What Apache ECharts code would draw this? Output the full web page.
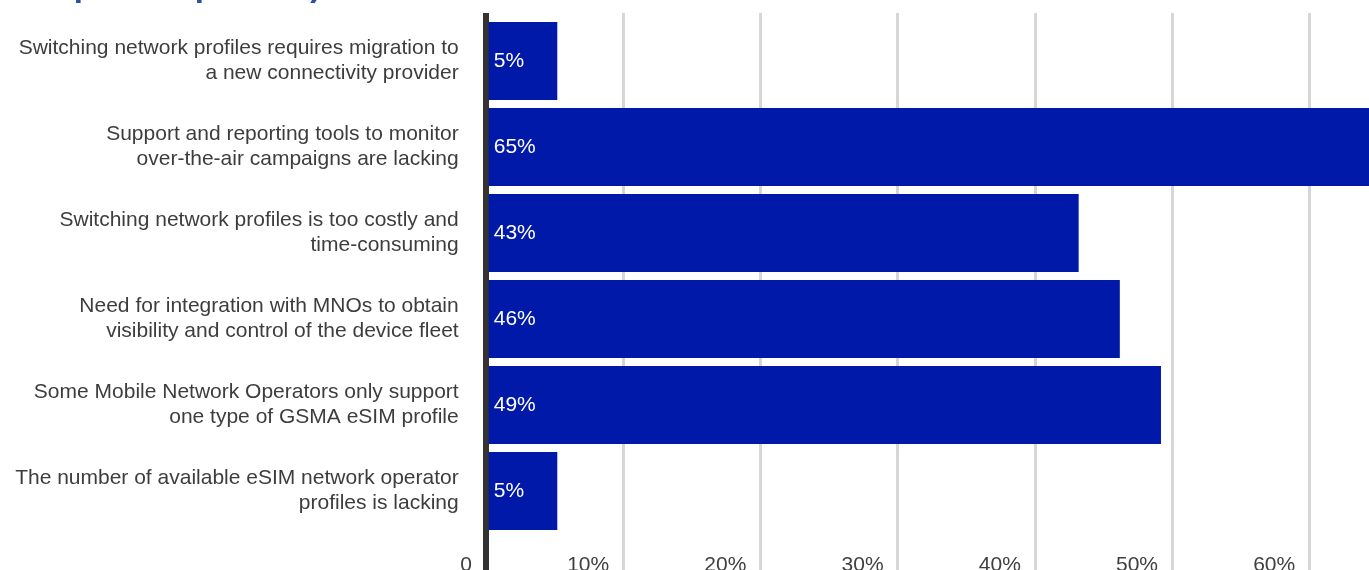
<!DOCTYPE html>
<html>
<head>
<meta charset="utf-8">
<script src="https://cdn.jsdelivr.net/npm/echarts@6/dist/echarts.min.js"></script>
<style>
  html, body { margin: 0; padding: 0; background: #fff; }
  #chart { width: 1369px; height: 570px; }
</style>
</head>
<body>
<div id="chart"></div>
<script>
// Challenges listed top to bottom
const categories = [
  'Switching network profiles requires migration to\na new connectivity provider',
  'Support and reporting tools to monitor\nover-the-air campaigns are lacking',
  'Switching network profiles is too costly and\ntime-consuming',
  'Need for integration with MNOs to obtain\nvisibility and control of the device fleet',
  'Some Mobile Network Operators only support\none type of GSMA eSIM profile',
  'The number of available eSIM network operator\nprofiles is lacking'
];
// Share of respondents, percent
const shares = [5, 65, 43, 46, 49, 5];
// Percent axis ticks
const tickValues = [0, 10, 20, 30, 40, 50, 60, 70];
const titleText = 'adopter responses)';

const axisMax = tickValues[tickValues.length - 1];
const pxPerUnit = 13.72;

const chart = echarts.init(document.getElementById('chart'), null, { renderer: 'canvas' });
chart.setOption({
  animation: false,
  textStyle: { fontFamily: '"Liberation Sans", Arial, sans-serif' },
  graphic: [{
    type: 'text',
    left: 15,
    top: -30,
    style: {
      text: titleText,
      font: 'bold 33px "Liberation Sans", Arial, sans-serif',
      fill: '#2c4f9e'
    }
  }],
  grid: [
    { left: 488.7, top: 18, height: 516, width: pxPerUnit * axisMax, containLabel: false, outerBoundsMode: 'none' },
    { left: 486, top: 13, bottom: 0, width: pxPerUnit * axisMax, containLabel: false, outerBoundsMode: 'none' }
  ],
  xAxis: [
    { gridIndex: 0, type: 'value', min: 0, max: axisMax, show: false },
    {
      gridIndex: 1, type: 'value', min: 0, max: axisMax, interval: 10,
      axisLine: { show: false },
      axisTick: { show: false },
      splitLine: { show: true, lineStyle: { color: '#d6d6d6', width: 3 } },
      axisLabel: {
        inside: true,
        margin: 5,
        align: 'right',
        verticalAlign: 'middle',
        padding: [0, 14, 0, 0],
        fontSize: 21,
        color: '#404040',
        formatter: v => (v === 0 ? '0' : v + '%')
      }
    }
  ],
  yAxis: [
    {
      gridIndex: 0, type: 'category', data: categories, inverse: true,
      axisLine: { show: false },
      axisTick: { show: false },
      axisLabel: {
        margin: 30,
        fontSize: 21,
        lineHeight: 25,
        color: '#3d3d3d',
        align: 'right'
      }
    },
    {
      gridIndex: 1, type: 'value', min: 0, max: 1,
      axisLabel: { show: false },
      axisTick: { show: false },
      splitLine: { show: false },
      axisLine: { show: true, lineStyle: { color: '#333333', width: 6, cap: 'butt' } }
    }
  ],
  series: [{
    type: 'bar',
    xAxisIndex: 0,
    yAxisIndex: 0,
    data: shares,
    barCategoryGap: '9.3%',
    itemStyle: { color: '#0019a8' },
    label: {
      show: true,
      position: 'insideLeft',
      distance: 5,
      color: '#ffffff',
      fontSize: 21,
      formatter: p => p.value + '%'
    },
    z: 3
  }]
});
</script>
</body>
</html>
